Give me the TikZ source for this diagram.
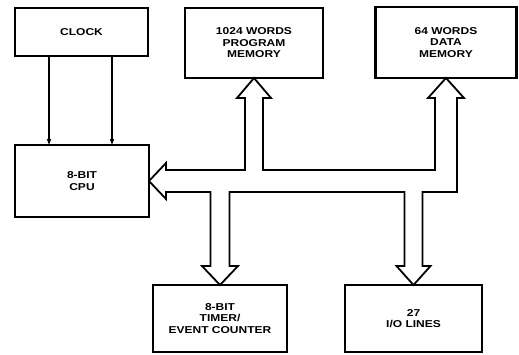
\documentclass[tikz,border=0pt]{standalone}
\usepackage{fontspec}
\setmainfont{Liberation Sans}[FakeStretch=1.2]
\usetikzlibrary{calc,arrows.meta}
\begin{document}
\begin{tikzpicture}[x=1pt,y=-1pt,
  box/.style={draw=black,line width=2.6pt,outer sep=0pt,inner sep=0pt,
    align=center,font=\fontsize{10}{11.5}\selectfont\bfseries},
  clk/.style={draw=black,line width=1.2pt,-{Triangle[length=6pt,width=4pt]}},
  bus/.style={draw=black,line width=1.8pt,line join=miter,fill=white}]
\useasboundingbox (0,0) rectangle (519,354);
\node[box,minimum width=133pt,minimum height=48pt] (clock) at (81.5,32) {CLOCK};
\node[box,minimum width=134pt,minimum height=72pt] (cpu) at (82,181) {8-BIT\\CPU};
\node[box,minimum width=138pt,minimum height=70pt] (prog) at (254,43) {1024 WORDS\\PROGRAM\\MEMORY};
\node[box,minimum width=141pt,minimum height=71pt] (data) at (446,42.5) {64 WORDS\\DATA\\MEMORY};
\node[box,minimum width=134pt,minimum height=67pt] (timer) at (220,318.5) {8-BIT\\TIMER/\\EVENT COUNTER};
\node[box,minimum width=137pt,minimum height=67pt] (io) at (413.5,318.5) {27\\I/O LINES};
% clock lines
\coordinate (c1) at (49,0);
\coordinate (c2) at (112,0);
\draw[clk] (clock.south -| c1) -- (cpu.north -| c1);
\draw[clk] (clock.south -| c2) -- (cpu.north -| c2);
% bus
\coordinate (bt) at ($(cpu.east)+(0,-11)$);
\coordinate (bb) at ($(cpu.east)+(0,11)$);
\coordinate (pl) at ($(prog.south)+(-9,0)$);
\coordinate (pr) at ($(prog.south)+(9,0)$);
\coordinate (dl) at ($(data.south)+(-11,0)$);
\coordinate (dr) at ($(data.south)+(11,0)$);
\coordinate (tl) at ($(timer.north)+(-9.5,0)$);
\coordinate (tr) at ($(timer.north)+(9.5,0)$);
\coordinate (il) at ($(io.north)+(-9,0)$);
\coordinate (ir) at ($(io.north)+(9,0)$);
\draw[bus] (cpu.east) -- ($(cpu.east)+(17,-18)$) -- ($(cpu.east)+(17,-11)$)
  -- (pl |- bt) -- ($(pl)+(0,20)$) -- ($(prog.south)+(-17,20)$) -- (prog.south)
  -- ($(prog.south)+(17,20)$) -- ($(pr)+(0,20)$) -- (pr |- bt)
  -- (dl |- bt) -- ($(dl)+(0,20)$) -- ($(data.south)+(-18,20)$) -- (data.south)
  -- ($(data.south)+(18,20)$) -- ($(dr)+(0,20)$) -- (dr |- bb)
  -- (ir |- bb) -- ($(ir)+(0,-19)$) -- ($(io.north)+(17,-19)$) -- (io.north)
  -- ($(io.north)+(-17,-19)$) -- ($(il)+(0,-19)$) -- (il |- bb)
  -- (tr |- bb) -- ($(tr)+(0,-19)$) -- ($(timer.north)+(18,-19)$) -- (timer.north)
  -- ($(timer.north)+(-18,-19)$) -- ($(tl)+(0,-19)$) -- (tl |- bb)
  -- ($(cpu.east)+(17,11)$) -- ($(cpu.east)+(17,18)$) -- cycle;
\end{tikzpicture}
\end{document}
